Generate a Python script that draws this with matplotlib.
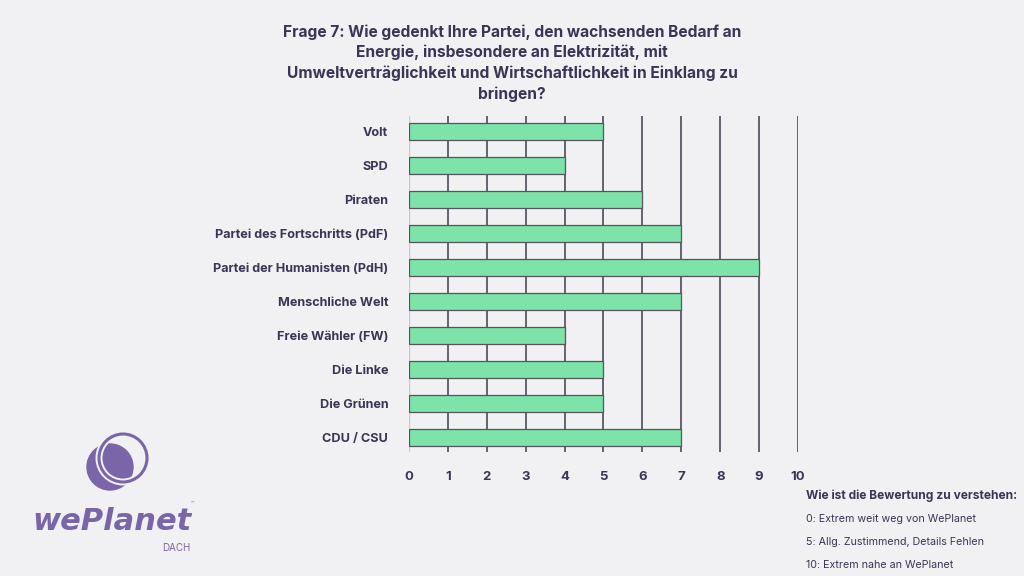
import numpy as np
import matplotlib
matplotlib.use("Agg")
from matplotlib import pyplot as plt
from matplotlib.patches import Circle

# data (bottom to top)
parteien = ["CDU / CSU", "Die Grünen", "Die Linke", "Freie Wähler (FW)",
            "Menschliche Welt", "Partei der Humanisten (PdH)",
            "Partei des Fortschritts (PdF)", "Piraten", "SPD", "Volt"]
werte = [7, 5, 5, 4, 7, 9, 7, 6, 4, 5]
xticks = list(range(0, 11))

titel = ("Frage 7: Wie gedenkt Ihre Partei, den wachsenden Bedarf an\n"
         "Energie, insbesondere an Elektrizität, mit\n"
         "Umweltverträglichkeit und Wirtschaftlichkeit in Einklang zu\n"
         "bringen?")
legende_titel = "Wie ist die Bewertung zu verstehen:"
legende = ["0: Extrem weit weg von WePlanet",
           "5: Allg. Zustimmend, Details Fehlen",
           "10: Extrem nahe an WePlanet"]

bg = "#f1f1f3"
txt = "#3b3456"
gruen = "#7de3a9"
lila = "#7b65a9"

plt.rcParams['font.family'] = ['Inter', 'DejaVu Sans']

fig = plt.figure(figsize=(10.24, 5.76), dpi=100, facecolor=bg)
ax = fig.add_axes([0.3994, 0.2153, 0.3799, 0.5833])
ax.set_facecolor(bg)

y = np.arange(len(parteien))
# grid lines
for xv in xticks:
    ax.axvline(xv, color="#c9c9cf" if xv == 0 else "#5a5866", lw=1.3 if xv else 1.0, zorder=1)
ax.barh(y, werte, height=0.5, color=gruen, edgecolor="#55535e", linewidth=0.9, zorder=2)

ax.set_xlim(0, 10)
ax.set_ylim(-0.42, 9.47)
ax.set_xticks(xticks)
ax.set_yticks(y)
ax.set_yticklabels(parteien)
ax.tick_params(length=0, colors=txt)
ax.tick_params(axis='x', pad=14, labelsize=9.5)
ax.tick_params(axis='y', pad=15, labelsize=9.1)
for lab in ax.get_xticklabels() + ax.get_yticklabels():
    lab.set_fontweight("bold")
for s in ax.spines.values():
    s.set_visible(False)

fig.text(0.5, 0.958, titel, ha="center", va="top", fontsize=11.2,
         fontweight="bold", color=txt, linespacing=1.42)

# Bewertungslegende
fig.text(806/1024, 1-496/576, legende_titel, fontsize=8.6, fontweight="bold",
         color=txt, va="center")
for i, t in enumerate(legende):
    fig.text(806/1024, 1-(519+23*i)/576, t, fontsize=7.7, color=txt, va="center")

# Logo
lax = fig.add_axes([0, 0, 1, 1], facecolor="none")
lax.set_xlim(0, 1024)
lax.set_ylim(576, 0)
lax.axis("off")
lax.add_patch(Circle((110, 467), 23, color=lila, zorder=1))
lax.add_patch(Circle((123, 458), 24, facecolor="none", edgecolor=bg, lw=5, zorder=2))
lax.add_patch(Circle((123, 458), 24, facecolor="none", edgecolor=lila, lw=2.2, zorder=3))
lax.text(112, 522, "wePlanet", fontsize=22, fontweight="bold", style="italic",
         color=lila, ha="center", va="center", family=["DejaVu Sans"])
lax.text(176, 548, "DACH", fontsize=7, color=lila, ha="center", va="center")
lax.text(192, 503, "™", fontsize=4, color=lila, ha="center", va="center")

fig.savefig("out.png", dpi=100, facecolor=bg)
